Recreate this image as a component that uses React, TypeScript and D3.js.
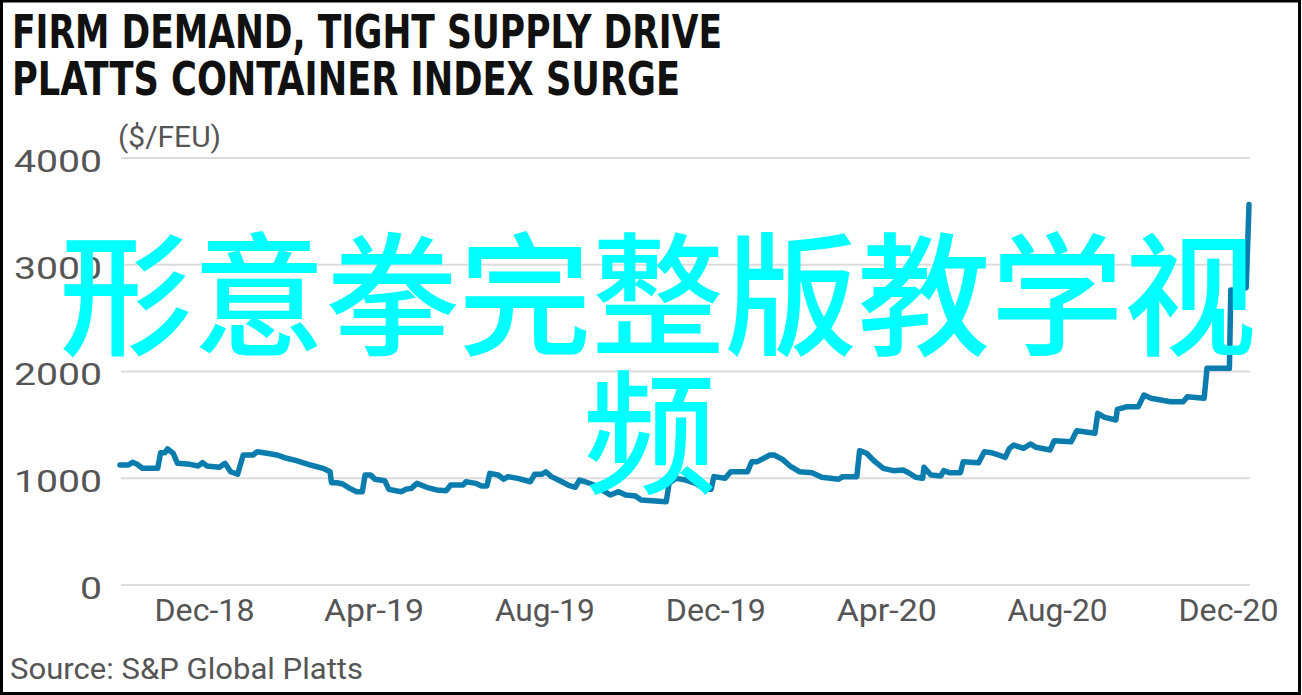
import * as d3 from 'd3';
import React, { useEffect, useRef } from 'react';

// chart texts
const titleLines = ['FIRM DEMAND, TIGHT SUPPLY DRIVE', 'PLATTS CONTAINER INDEX SURGE'];
const unitLabel = '($/FEU)';
const sourceText = 'Source: S&P Global Platts';
const watermarkLines = ['形意拳完整版教学视', '频'];

// Platts container index, $/FEU
const dates = [
    '2018-10-02', '2018-10-08', '2018-10-11', '2018-10-14', '2018-10-18', '2018-10-29',
    '2018-10-31', '2018-11-03', '2018-11-05', '2018-11-09', '2018-11-12', '2018-11-21',
    '2018-11-27', '2018-11-30', '2018-12-03', '2018-12-12', '2018-12-16', '2018-12-20',
    '2018-12-25', '2018-12-29', '2019-01-05', '2019-01-08', '2019-01-15', '2019-01-22',
    '2019-01-29', '2019-02-05', '2019-02-15', '2019-02-24', '2019-03-01', '2019-03-02',
    '2019-03-06', '2019-03-10', '2019-03-15', '2019-03-20', '2019-03-24', '2019-03-26',
    '2019-03-30', '2019-04-02', '2019-04-09', '2019-04-12', '2019-04-17', '2019-04-21',
    '2019-04-24', '2019-04-28', '2019-05-02', '2019-05-09', '2019-05-16', '2019-05-23',
    '2019-05-26', '2019-06-04', '2019-06-06', '2019-06-13', '2019-06-17', '2019-06-21',
    '2019-06-23', '2019-06-29', '2019-07-03', '2019-07-06', '2019-07-13', '2019-07-22',
    '2019-07-25', '2019-07-30', '2019-08-02', '2019-08-06', '2019-08-11', '2019-08-18',
    '2019-08-23', '2019-08-26', '2019-08-30', '2019-09-08', '2019-09-13', '2019-09-17',
    '2019-09-23', '2019-09-28', '2019-10-05', '2019-10-09', '2019-10-27', '2019-10-29',
    '2019-11-03', '2019-11-10', '2019-11-17', '2019-11-24', '2019-11-28', '2019-11-30',
    '2019-12-08', '2019-12-12', '2019-12-24', '2019-12-27', '2019-12-31', '2020-01-09',
    '2020-01-12', '2020-01-18', '2020-01-24', '2020-01-30', '2020-02-08', '2020-02-15',
    '2020-02-27', '2020-03-01', '2020-03-11', '2020-03-13', '2020-03-18', '2020-03-24',
    '2020-03-30', '2020-04-06', '2020-04-13', '2020-04-17', '2020-04-22', '2020-04-27',
    '2020-04-28', '2020-05-03', '2020-05-10', '2020-05-12', '2020-05-16', '2020-05-24',
    '2020-05-26', '2020-06-06', '2020-06-10', '2020-06-15', '2020-06-20', '2020-06-25',
    '2020-06-28', '2020-07-01', '2020-07-08', '2020-07-13', '2020-07-17', '2020-07-27',
    '2020-07-30', '2020-08-11', '2020-08-15', '2020-08-28', '2020-08-30', '2020-09-04',
    '2020-09-12', '2020-09-13', '2020-09-20', '2020-09-28', '2020-10-02', '2020-10-07',
    '2020-10-14', '2020-10-21', '2020-10-30', '2020-11-02', '2020-11-14', '2020-11-16',
    '2020-12-02', '2020-12-03', '2020-12-06', '2020-12-14', '2020-12-16',
];
const values = [
    1119, 1119, 1144, 1128, 1088, 1088,
    1234, 1234, 1269, 1229, 1135, 1125,
    1110, 1141, 1110, 1097, 1135, 1056,
    1032, 1213, 1213, 1244, 1229, 1213,
    1182, 1160, 1119, 1088, 1056, 953,
    953, 941, 900, 869, 869, 1025,
    1025, 985, 972, 891, 878, 869,
    891, 900, 947, 910, 885, 878,
    931, 931, 962, 947, 922, 922,
    1041, 1025, 985, 1010, 994, 962,
    1032, 1032, 1056, 1010, 978, 931,
    910, 978, 962, 920, 869, 838,
    869, 838, 828, 791, 775, 947,
    994, 978, 947, 891, 891, 1010,
    994, 1056, 1056, 1150, 1150, 1213,
    1213, 1172, 1103, 1056, 1047, 1004,
    985, 1010, 1010, 1253, 1229, 1150,
    1088, 1066, 1072, 1047, 1004, 994,
    1097, 1025, 1016, 1066, 1047, 1047,
    1150, 1141, 1244, 1234, 1213, 1191,
    1275, 1306, 1275, 1316, 1285, 1260,
    1347, 1337, 1440, 1416, 1603, 1566,
    1541, 1641, 1666, 1666, 1775, 1744,
    1728, 1712, 1712, 1759, 1744, 2025,
    2025, 2760, 2760, 2780, 3560,
];

const yTicks = [0, 1000, 2000, 3000, 4000];
const xTickDates = ['2018-12-01', '2019-04-01', '2019-08-01', '2019-12-01', '2020-04-01', '2020-08-01', '2020-12-01'];

const W = 1302;
const H = 695;

const Chart: React.FC = () => {
    const ref = useRef<SVGSVGElement | null>(null);

    useEffect(() => {
        const parse = d3.utcParse('%Y-%m-%d');
        const data = dates.map((d, i) => ({ date: parse(d)!, value: values[i] }));

        const svg = d3.select(ref.current).attr('width', W).attr('height', H);
        svg.selectAll('*').remove();

        const plotLeft = 121;
        const plotRight = 1250;

        const x = d3
            .scaleUtc()
            .domain([parse(xTickDates[0])!, parse(xTickDates[xTickDates.length - 1])!])
            .range([204, 1228]);

        const y = d3.scaleLinear().domain([0, 4000]).range([584.4, 157.6]);

        svg.append('rect')
            .attr('x', 0)
            .attr('y', 0)
            .attr('width', W)
            .attr('height', H)
            .attr('fill', '#fff');

        // Title
        titleLines.forEach((t, i) => {
            svg.append('text')
                .attr('x', 12)
                .attr('y', 48 + i * 47)
                .attr('textLength', i === 0 ? 710 : 668)
                .attr('lengthAdjust', 'spacingAndGlyphs')
                .style('font-family', "'Liberation Sans Narrow', 'DejaVu Sans Condensed', 'Roboto', sans-serif")
                .style('font-weight', 700)
                .style('font-size', '46px')
                .attr('fill', '#111')
                .text(t);
        });

        // Y axis with grid lines
        const yAxis = svg
            .append('g')
            .attr('transform', `translate(${plotLeft},0)`)
            .call(
                d3
                    .axisLeft(y)
                    .tickValues(yTicks)
                    .tickSize(-(plotRight - plotLeft))
                    .tickPadding(19)
                    .tickFormat(d3.format('d'))
            );
        yAxis.select('.domain').remove();
        yAxis.selectAll('line').attr('stroke', '#dcdcdc').attr('stroke-width', 2);
        yAxis
            .selectAll<SVGTextElement, number>('text')
            .attr('dy', '0.45em')
            .attr('fill', '#555')
            .attr('textLength', (d) => String(d).length * 22)
            .attr('lengthAdjust', 'spacingAndGlyphs')
            .style('font-family', 'Roboto, sans-serif')
            .style('font-size', '31px');

        svg.append('text')
            .attr('x', 118)
            .attr('y', 147)
            .attr('fill', '#555')
            .style('font-family', 'Roboto, sans-serif')
            .style('font-size', '30px')
            .text(unitLabel);

        // X axis
        const xAxis = svg
            .append('g')
            .attr('transform', `translate(0,${y(0)})`)
            .call(
                d3
                    .axisBottom(x)
                    .tickValues(xTickDates.map((d) => parse(d)!))
                    .tickSize(0)
                    .tickPadding(14)
                    .tickFormat((d) => d3.utcFormat('%b-%y')(d as Date))
            );
        xAxis.select('.domain').remove();
        xAxis
            .selectAll('text')
            .attr('fill', '#555')
            .attr('textLength', 100)
            .attr('lengthAdjust', 'spacingAndGlyphs')
            .style('font-family', 'Roboto, sans-serif')
            .style('font-size', '32px');

        // Line
        const line = d3
            .line<{ date: Date; value: number }>()
            .x((d) => x(d.date))
            .y((d) => y(d.value));

        svg.append('path')
            .datum(data)
            .attr('d', line)
            .attr('fill', 'none')
            .attr('stroke', '#0a7cad')
            .attr('stroke-width', 5.5)
            .attr('stroke-linejoin', 'round')
            .attr('stroke-linecap', 'round');

        // Source
        svg.append('text')
            .attr('x', 10)
            .attr('y', 679)
            .attr('fill', '#555')
            .attr('textLength', 353)
            .attr('lengthAdjust', 'spacingAndGlyphs')
            .style('font-family', 'Roboto, sans-serif')
            .style('font-size', '30px')
            .text(sourceText);

        // Watermark
        watermarkLines.forEach((t, i) => {
            svg.append('text')
                .attr('x', 658 - i * 8)
                .attr('y', 345 + i * 138)
                .attr('text-anchor', 'middle')
                .attr('fill', '#00ffff')
                .style('font-family', "'Noto Sans CJK SC', sans-serif")
                .style('font-weight', 500)
                .style('font-size', '133px')
                .text(t);
        });

        // Outer frame
        svg.append('rect')
            .attr('x', 1.5)
            .attr('y', 1)
            .attr('width', W - 4)
            .attr('height', H - 2.5)
            .attr('fill', 'none')
            .attr('stroke', '#000')
            .attr('stroke-width', 3);
    }, []);

    return <svg ref={ref} style={{ position: 'absolute', left: 0, top: 0, display: 'block' }}></svg>;
};

export default function App() {
    return <Chart />;
}
